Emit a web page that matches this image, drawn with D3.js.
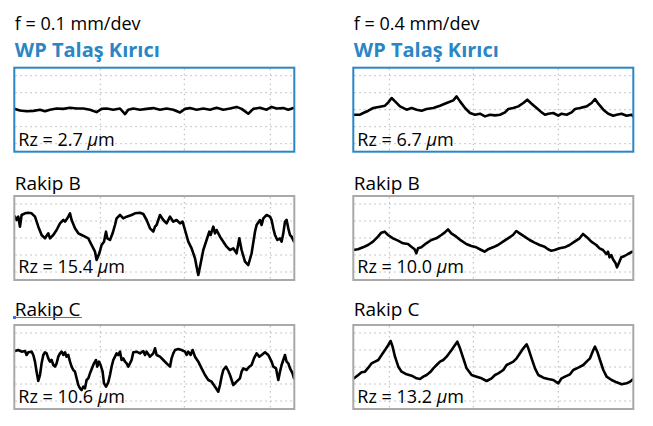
<!DOCTYPE html>
<html><head><meta charset="utf-8">
<script src="https://cdn.jsdelivr.net/npm/d3@7"></script>
<style>body{margin:0;background:#fff}svg{display:block}</style>
</head><body><div id="chart"></div>
<script>
// ---- data ----
const feeds = ["f = 0.1 mm/dev", "f = 0.4 mm/dev"];
const tools = ["WP Talaş Kırıcı", "Rakip B", "Rakip C"];
const rzFeed01 = [2.7, 15.4, 10.6];
const rzFeed04 = [6.7, 10.0, 13.2];
const gridXFeed01 = [87, 171, 257];
const gridXFeed04 = [37, 121, 206];
const gridY = [-8.5, -4.25, 0, 4.25, 8.5];

// profiles: [position, height µm]
const wp01 = [[1.7,0.2],[6.7,-0.2],[13.3,-0.4],[20,-0.3],[26.7,0],[31.7,-0.4],[36.7,0],[43.3,0.3],[50,0.2],[56.7,0.5],[63.3,0.3],[70,0.3],[76.7,0],[83.3,-0.6],[88.3,0.2],[93.3,0.3],[100,0],[106.7,0.3],[111.7,-1.1],[115,0],[120,0.3],[126.7,0],[133.3,0.2],[140,0.4],[146.7,0],[153.3,0.3],[160,0],[166.7,-0.7],[171.7,0.2],[176.7,0.4],[183.3,0],[190,0.3],[196.7,0],[203.3,0.5],[210,0],[216.7,0.3],[223.3,0.7],[228.3,0.2],[235,-1.0],[240,0.2],[246.7,0.5],[253.3,0],[258.3,0.7],[263.3,0.3],[270,0.4],[275,0],[280,0.4]];
const rakipB01 = [[1.7,5.33],[3.3,4.5],[5,5.33],[6.7,2.83],[8.3,5.75],[11.7,6.17],[15,6.33],[18.3,6.17],[21.7,5.33],[25,2.83],[28.3,0.75],[31.7,-0.08],[35,1.17],[36.7,-0.08],[40,0.75],[43.3,2],[46.7,3.67],[50,4.5],[51.7,4.08],[55,5.33],[56.7,6.17],[58.3,4.5],[61.7,2.42],[65,1.17],[68.3,0.75],[71.7,0.33],[75,-0.08],[78.3,-1.75],[81.7,-3.42],[83.3,-5.5],[86,-3.83],[88.3,-1.75],[90.7,-0.92],[92.7,1.58],[94,-0.08],[96.7,-0.5],[99.3,1.17],[101.7,3.25],[103.3,4.92],[106.7,5.75],[110,4.92],[113.3,5.33],[118.3,5.75],[121.7,6.17],[126.7,6.33],[130,6],[133.3,4.5],[136.7,2.42],[140,1.58],[141.7,2.83],[143.3,3.25],[146.7,5.75],[150,4.5],[153.3,3.67],[156.7,5.33],[160,4.08],[163.3,4.5],[166.7,3.67],[169.3,4.08],[171.7,2],[175,-0.92],[178.3,-2.58],[181.7,-5.08],[183.3,-7.17],[185,-9.25],[186.7,-7.17],[190,-3],[193.3,-0.5],[196,1.58],[197.3,0.75],[200,2.83],[201.7,1.17],[203.3,2],[206.7,0.33],[210,-0.92],[213.3,-2.17],[216.7,-3],[220,-2.58],[223.3,-3.83],[226,-0.08],[228.3,-3],[231.7,-5.92],[235,-6.75],[238.3,-3.83],[241.7,1.58],[243.3,3.25],[246.7,4.5],[248.3,3.25],[250,4.92],[253.3,5.75],[256.7,5.33],[258.3,4.5],[260,2.42],[261.7,0.75],[264,-0.5],[266.7,-0.08],[268.3,-0.92],[270,1.17],[271.7,4.08],[273.3,4.5],[275,2.42],[276.7,0.75],[278.3,0.33],[280.7,-0.92]];
const rakipC01 = [[1.7,4],[5,4.25],[8.3,3.83],[11.7,4],[13.3,3],[15,3.67],[18.3,3.83],[20,3],[21.7,1.33],[23.3,-1.17],[25,-3.5],[26.7,-2],[28.3,0.92],[30,3],[31.7,3.67],[33.3,3.42],[35,2.17],[36.7,1.33],[38.3,1.75],[40,0.5],[41.7,0.08],[43.3,0.92],[45,2.58],[46.7,3.42],[48.3,3.83],[50,3],[51.7,3.67],[53.3,2.58],[55,3],[56.7,1.33],[58.3,0.08],[60,-0.75],[61.7,-1.17],[63.3,-2.83],[65,-4.5],[66.7,-5.33],[68.3,-5.75],[70,-4.92],[71.7,-5.33],[73.3,-3.25],[75,-2.83],[76.7,-1.58],[79.3,0.08],[80.7,0.92],[82.7,1.75],[84,0.08],[85.7,1.33],[87.3,0.5],[89.3,-1.17],[90.7,-4.08],[92.7,-4.92],[95,-3.83],[96.7,-2],[98.3,0.08],[100,1.75],[101.7,2.58],[103.3,3.42],[105,3],[106.7,3.83],[108.3,1.75],[110,2.17],[111.7,1.33],[113.3,0.92],[115,0.08],[116.7,0.92],[118.3,1.75],[120,3.67],[123.3,3.83],[126.7,3.42],[130,4],[131.7,3],[133.3,3.83],[136.7,2.58],[140,3.42],[141.7,4.67],[143.3,3],[146.7,2.58],[150,1.75],[153.3,0.92],[156.7,0.08],[158.3,2.17],[160,3.42],[161.7,4.25],[165,4.5],[168.3,4.25],[171.7,3.83],[173.3,3],[175,3.83],[177.3,3],[179.3,4.25],[181.7,2.58],[185,1.33],[188.3,-0.33],[191.7,-2],[195,-3.25],[198.3,-3.67],[201.7,-4.92],[205,-6.17],[206.7,-4.5],[208.3,-2.42],[210,-0.75],[212.7,0.08],[215,-1],[216.7,-2],[220,-4.5],[223.3,-3.67],[226.7,-2.83],[228.3,-1.17],[230,-0.33],[233.3,-0.75],[236,0.08],[238.3,0.5],[240.7,2.17],[243.3,3.42],[246,2.58],[248.3,3],[251.7,3.67],[255,3],[258.3,1.33],[260,0.08],[262.7,-0.33],[265,-3.25],[266.7,-1.17],[268.3,0.5],[270,1.75],[271.7,3],[273.3,1.33],[275,0.92],[276.7,-0.33],[279.3,-1.58],[280.7,-2.83]];
const wp04 = [[1,-1.25],[7.7,-1.25],[11,-0.83],[16,-0.25],[21,0.42],[27.7,0.75],[32.7,1.0],[36,1.83],[39.3,2.92],[42.7,2.08],[47.7,0.83],[54.3,0],[59.3,0.42],[64.3,0],[69.3,-0.25],[74.3,0.17],[81,0.42],[87.7,1.0],[94.3,1.67],[101,2.33],[104.3,3.33],[107.7,2.08],[112.7,0.42],[117.7,-0.83],[122.7,-1.25],[127.7,-1.0],[132.7,-1.67],[137.7,-1.25],[142.7,-1.42],[147.7,-1.25],[152.7,-0.67],[156,0.17],[161,0.42],[166,0.83],[171,1.67],[175,2.5],[179.3,1.5],[184.3,0.42],[189.3,-0.67],[192.7,-1.25],[196,-1.0],[201,-0.83],[206,-1.5],[209.3,-1.0],[214.3,-1.25],[219.3,-0.67],[222.7,0.17],[227.7,0.42],[234.3,0.83],[239.3,1.67],[242.7,2.67],[246,1.5],[251,0],[256,-1.0],[261,-1.5],[264.3,-1.25],[269.3,-1.0],[274.3,-1.5],[279.3,-1.25],[281.7,-1.83]];
const rakipB04 = [[0.7,-3],[5.7,-2.83],[10.7,-2.33],[15.7,-1.75],[20.7,-0.92],[25.7,0.33],[29,1.33],[32.3,1.58],[35.7,0.75],[40.7,-0.08],[45.7,-0.67],[50.7,-1.33],[55.7,-1.5],[59,-2.17],[62.3,-2.83],[64,-3.83],[65.7,-2.58],[69,-2.33],[74,-1.33],[79,-0.5],[84,-0.08],[89,0.75],[92.3,1.33],[95.7,2.17],[99,1.17],[104,0.33],[109,-0.67],[114,-1.5],[119,-2],[124,-2.33],[129,-3],[132.3,-3.42],[135.7,-2.83],[140.7,-2.33],[145.7,-1.75],[150.7,-0.92],[155.7,-0.08],[160.7,0.75],[164,1.75],[167.3,1.17],[172.3,0.33],[177.3,-0.5],[182.3,-1.17],[187.3,-1.75],[192.3,-2.17],[195.7,-2.83],[199,-3.17],[202.3,-3],[207.3,-2.58],[212.3,-2.33],[217.3,-1.75],[222.3,-0.92],[227.3,-0.08],[230.7,1],[234,0.33],[239,-0.92],[244,-1.75],[247.3,-2.58],[250.7,-3],[254,-4],[255.7,-3.42],[257.3,-4.83],[259,-4.25],[260.7,-5.33],[263.3,-6.33],[264.7,-7.33],[266.7,-6.17],[269,-4.83],[272.3,-4.5],[275.7,-4],[280,-3.42]];
const rakipC04 = [[1.7,-2.83],[6,-2],[9.3,-1.33],[12.7,-1.17],[16,-0.17],[19.3,0.92],[22.7,1.33],[26,1.75],[29.3,3],[32.7,4.25],[36,5.5],[38.3,6.5],[40.3,5.08],[42.7,2.58],[46,0.08],[49.3,-1.17],[54.3,-1.83],[59.3,-2.17],[64.3,-2.83],[67.7,-3],[71,-2.42],[74.3,-2],[77.7,-1.33],[81,-0.33],[84.3,0.5],[87.7,1.33],[91,1.75],[94.3,2.58],[99.3,4.25],[102.7,5.5],[105,6.33],[107.7,4.67],[111,2.17],[114.3,-0.33],[119.3,-2],[124.3,-2.42],[129.3,-2.83],[134.3,-3.5],[139.3,-2.83],[142.7,-2],[146,-1.58],[151,-0.75],[154.3,0.5],[157.7,0.92],[161,1.33],[164.3,2.17],[167.7,3.42],[171,4.67],[174.3,5.67],[176,4.67],[179.3,2.17],[182.7,-0.33],[186,-2],[191,-2.67],[196,-3],[201,-3.25],[206,-4.08],[209.3,-2.83],[212.7,-2.42],[217.7,-1.83],[221,-0.75],[226,-0.17],[231,0.5],[234.3,1.33],[237.7,2.17],[241,4.25],[242.7,5.08],[245,3.83],[247.7,1.75],[251,-0.75],[254.3,-2.42],[259.3,-3.25],[264.3,-3.83],[269.3,-4.33],[274.3,-4.08],[277.7,-3.67],[281,-3]];

const profilesFeed01 = [wp01, rakipB01, rakipC01];
const profilesFeed04 = [wp04, rakipB04, rakipC04];

// ---- layout ----
const W = 653, H = 426;
const FONT = "'Open Sans', 'Noto Sans', sans-serif";
const BLUE = "#2b86c6";
const colLeft = [13.3, 352.3];
const rowTop = [66.7, 195, 324];
const boxW = 282, boxH = 86;
const labelBase = [null, 190, 316];
const rzBase = [146, 273, 403];

const svg = d3.select("#chart").append("svg").attr("width", W).attr("height", H);

const columns = [
  {feed: feeds[0], rz: rzFeed01, profiles: profilesFeed01, gridX: gridXFeed01},
  {feed: feeds[1], rz: rzFeed04, profiles: profilesFeed04, gridX: gridXFeed04}
];
const fmt = d3.format(".1f");

columns.forEach((col, ci) => {
  const x0 = colLeft[ci];
  svg.append("text").attr("x", x0 + 1.5).attr("y", 30)
    .attr("font-family", FONT).attr("font-size", 18).attr("fill", "#000").text(col.feed);
  svg.append("text").attr("x", x0 + 1.5).attr("y", 57)
    .attr("font-family", FONT).attr("font-size", 20).attr("font-weight", 700).attr("fill", BLUE).text(tools[0]);

  tools.forEach((tool, ri) => {
    const top = rowTop[ri];
    const x = d3.scaleLinear().domain([0, 282]).range([x0, x0 + boxW]);
    const y = d3.scaleLinear().domain([10.5, -10.5]).range([top + 1, top + boxH - 1]);
    const g = svg.append("g");
    const clipId = `clip-${ci}-${ri}`;
    g.append("clipPath").attr("id", clipId).append("rect")
      .attr("x", x0 + 1).attr("y", top + 1).attr("width", boxW - 2).attr("height", boxH - 2);

    // grid
    g.selectAll("line.gy").data(gridY).join("line")
      .attr("x1", x0 + 2).attr("x2", x0 + boxW - 2)
      .attr("y1", d => y(d)).attr("y2", d => y(d))
      .attr("stroke", "#b5b5b5").attr("stroke-width", 1).attr("stroke-dasharray", "1.5,3.5");
    g.selectAll("line.gx").data(col.gridX).join("line")
      .attr("x1", d => x(d)).attr("x2", d => x(d))
      .attr("y1", top + 2).attr("y2", top + boxH - 2)
      .attr("stroke", "#b5b5b5").attr("stroke-width", 1).attr("stroke-dasharray", "1.5,3.5");

    // Rz label
    const t = g.append("text").attr("x", x0 + 5).attr("y", rzBase[ri])
      .attr("font-family", FONT).attr("font-size", 18).attr("fill", "#000");
    t.append("tspan").text(`Rz = ${fmt(col.rz[ri])} `);
    t.append("tspan").attr("font-style", "italic").text("μ");
    t.append("tspan").text("m");

    // profile
    const line = d3.line().x(d => x(d[0])).y(d => y(d[1]));
    g.append("path").datum(col.profiles[ri]).attr("d", line)
      .attr("clip-path", `url(#${clipId})`)
      .attr("fill", "none").attr("stroke", "#000").attr("stroke-width", 2.6)
      .attr("stroke-linejoin", "round").attr("stroke-linecap", "round");

    // border
    g.append("rect").attr("x", x0 + 1).attr("y", top + 1)
      .attr("width", boxW - 2).attr("height", boxH - 2)
      .attr("fill", "none").attr("stroke", ri === 0 ? BLUE : "#a9a9a9").attr("stroke-width", 2);

    if (ri > 0) {
      svg.append("text").attr("x", x0 + 1.5).attr("y", labelBase[ri])
        .attr("font-family", FONT).attr("font-size", 19).attr("fill", "#000").text(tool);
    }
  });
});

// selection underline artifact under left "Rakip C"
svg.append("line").attr("x1", 14).attr("x2", 82).attr("y1", 317.5).attr("y2", 317.5)
  .attr("stroke", "#3a6ff0").attr("stroke-width", 1);
svg.append("rect").attr("x", 13).attr("y", 316).attr("width", 3).attr("height", 3).attr("fill", "#3a6ff0");
</script></body></html>
